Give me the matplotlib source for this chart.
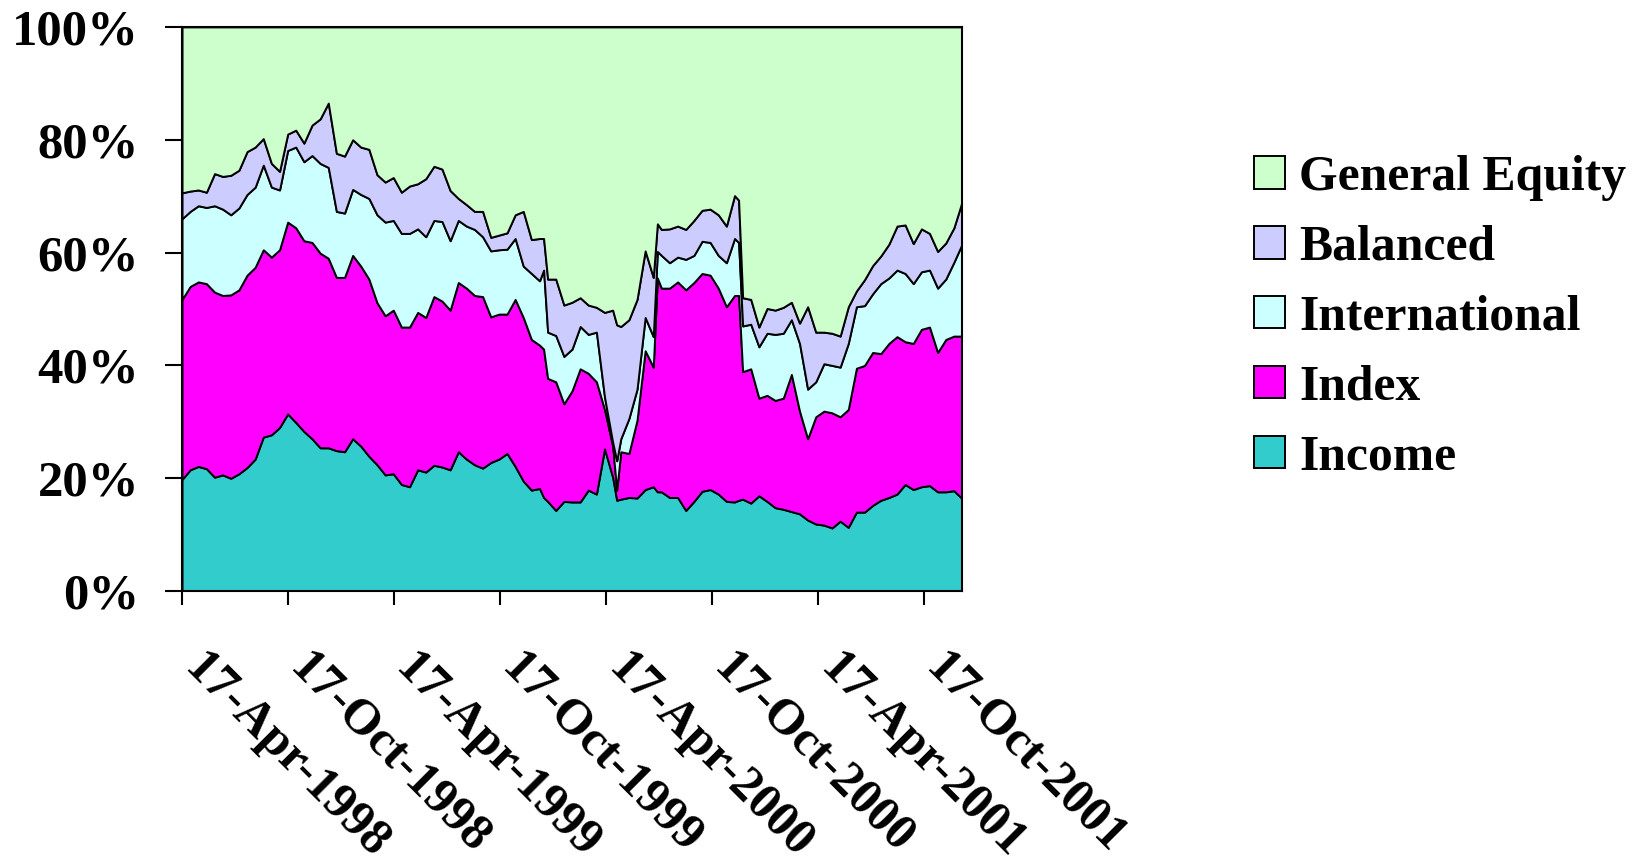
import numpy as np
import matplotlib
matplotlib.use('Agg')
import matplotlib.pyplot as plt
from matplotlib.transforms import ScaledTranslation

# Weekly observations, counted in weeks from the first date
START = np.datetime64('1998-04-17')
weeks = [
    0, 2, 4, 6, 8, 10, 12, 14, 16, 18,
    20, 22, 24, 26, 28, 30, 32, 34, 36, 38,
    40, 42, 44, 46, 48, 50, 52, 54, 56, 58,
    60, 62, 64, 66, 68, 70, 72, 74, 76, 78,
    80, 82, 84, 86, 88, 89, 90, 92, 94, 96,
    98, 100, 102, 104, 106, 107, 108, 110, 112, 114,
    116, 117, 118, 120, 122, 124, 126, 128, 130, 132,
    134, 136, 137, 138, 140, 142, 144, 146, 148, 150,
    152, 154, 156, 158, 160, 162, 164, 166, 168, 170,
    172, 174, 176, 178, 180, 182, 184, 186, 188, 190,
    192,
]

income = [
    19.8, 21.5, 22.1, 21.7, 20.2, 20.6, 20.0, 20.8, 21.9, 23.4,
    27.3, 27.7, 29.0, 31.4, 29.9, 28.3, 27.0, 25.4, 25.4, 24.9,
    24.7, 27.0, 25.7, 23.9, 22.4, 20.6, 20.8, 18.9, 18.5, 21.5,
    21.1, 22.3, 22.0, 21.5, 24.7, 23.4, 22.4, 21.8, 22.8, 23.4,
    24.4, 22.1, 19.5, 17.9, 18.2, 16.6, 15.9, 14.3, 15.9, 15.8,
    15.8, 17.9, 17.2, 25.2, 20.2, 16.1, 16.3, 16.6, 16.5, 18.0,
    18.5, 17.6, 17.6, 16.6, 16.6, 14.3, 15.9, 17.7, 18.0, 17.2,
    15.9, 15.8, 16.1, 16.3, 15.6, 16.9, 15.9, 14.8, 14.5, 14.1,
    13.7, 12.6, 11.9, 11.7, 11.2, 12.4, 11.3, 14.0, 14.0, 15.2,
    16.1, 16.6, 17.2, 18.9, 18.0, 18.5, 18.7, 17.6, 17.6, 17.8,
    16.4,
]
index = [
    31.9, 32.5, 32.7, 32.8, 32.8, 31.8, 32.5, 32.6, 34.1, 34.0,
    33.2, 31.5, 31.5, 34.0, 34.5, 33.8, 34.8, 34.5, 33.6, 30.7,
    30.9, 32.5, 31.9, 31.4, 28.7, 28.2, 29.0, 27.9, 28.3, 27.9,
    27.4, 29.9, 29.4, 28.3, 30.0, 30.3, 30.0, 30.4, 25.8, 25.7,
    24.7, 29.6, 29.0, 26.7, 25.4, 26.3, 21.8, 22.8, 17.3, 19.7,
    23.6, 20.7, 19.9, 7.0, 5.5, 1.8, 8.4, 7.8, 13.8, 24.6,
    21.2, 37.9, 36.1, 37.1, 38.2, 39.1, 38.8, 38.6, 38.0, 36.5,
    34.5, 36.6, 36.3, 22.6, 23.8, 17.3, 18.8, 19.0, 19.7, 24.3,
    18.2, 14.4, 19.0, 20.2, 20.4, 18.5, 20.9, 25.5, 26.0, 27.1,
    26.0, 27.3, 27.9, 25.3, 25.9, 27.9, 28.1, 24.7, 27.0, 27.4,
    28.8,
]
international = [
    14.3, 13.3, 13.5, 13.5, 15.3, 15.3, 14.2, 14.5, 14.3, 14.2,
    15.0, 12.4, 10.6, 12.7, 14.3, 14.0, 15.4, 15.9, 16.1, 11.7,
    11.4, 11.7, 12.7, 14.3, 15.6, 16.6, 15.9, 16.6, 16.6, 14.8,
    14.3, 13.5, 14.1, 12.3, 11.0, 11.0, 11.7, 10.6, 11.7, 11.4,
    11.5, 10.8, 9.1, 11.7, 11.4, 14.0, 8.2, 8.2, 8.4, 7.4,
    7.5, 6.9, 8.8, 2.2, 0.7, 5.2, 2.3, 6.2, 5.5, 5.9,
    5.4, 4.7, 5.8, 4.5, 4.4, 5.4, 4.8, 5.7, 5.8, 5.8,
    7.8, 10.1, 9.4, 8.1, 7.9, 9.1, 11.0, 11.7, 11.5, 9.7,
    12.0, 8.8, 6.2, 8.4, 8.4, 8.8, 11.7, 10.9, 10.6, 10.4,
    12.4, 11.6, 11.8, 12.1, 10.6, 10.2, 10.1, 11.4, 10.7, 13.1,
    16.3,
]
balanced = [
    4.6, 3.6, 2.8, 2.7, 5.7, 5.8, 7.0, 6.7, 7.6, 7.1,
    4.7, 4.2, 3.3, 2.9, 3.0, 3.3, 5.4, 7.9, 11.4, 10.3,
    10.1, 8.8, 8.4, 8.7, 7.1, 7.1, 7.6, 7.3, 8.4, 8.0,
    10.3, 9.6, 9.3, 8.9, 3.9, 3.8, 3.2, 4.5, 2.4, 2.6,
    2.9, 4.2, 9.7, 6.0, 7.5, 5.6, 9.4, 10.0, 9.1, 8.3,
    5.1, 5.2, 4.4, 15.0, 23.4, 24.1, 19.9, 17.5, 15.9, 11.8,
    10.5, 4.9, 4.6, 6.0, 5.5, 5.3, 6.2, 5.5, 5.9, 7.2,
    6.5, 7.6, 7.5, 5.0, 4.4, 3.5, 4.4, 4.3, 4.6, 3.1,
    3.6, 14.6, 8.8, 5.6, 5.7, 5.5, 6.5, 2.8, 4.6, 5.0,
    4.9, 6.0, 7.8, 8.6, 7.1, 7.6, 6.5, 6.5, 6.4, 6.1,
    7.5,
]
general_equity = [
    29.4, 29.1, 28.9, 29.3, 26.0, 26.5, 26.3, 25.4, 22.1, 21.3,
    19.8, 24.2, 25.6, 19.0, 18.3, 20.6, 17.4, 16.3, 13.5, 22.4,
    22.9, 20.0, 21.3, 21.7, 26.2, 27.5, 26.7, 29.3, 28.2, 27.8,
    26.9, 24.7, 25.2, 29.0, 30.4, 31.5, 32.7, 32.7, 37.3, 36.9,
    36.5, 33.3, 32.7, 37.7, 37.5, 37.5, 44.7, 44.7, 49.3, 48.8,
    48.0, 49.3, 49.7, 50.6, 50.2, 52.8, 53.1, 51.9, 48.3, 39.7,
    44.4, 34.9, 35.9, 35.8, 35.3, 35.9, 34.3, 32.5, 32.3, 33.3,
    35.3, 29.9, 30.7, 48.0, 48.3, 53.2, 49.9, 50.2, 49.7, 48.8,
    52.5, 49.6, 54.1, 54.1, 54.3, 54.8, 49.6, 46.8, 44.8, 42.3,
    40.6, 38.5, 35.3, 35.1, 38.4, 35.8, 36.6, 39.8, 38.3, 35.6,
    31.0,
]

series_names = ['Income', 'Index', 'International', 'Balanced', 'General Equity']
colors = ['#33CCCC', '#FF00FF', '#CCFFFF', '#CCCCFF', '#CCFFCC']

tick_dates = ['1998-04-17', '1998-10-17', '1999-04-17', '1999-10-17',
              '2000-04-17', '2000-10-17', '2001-04-17', '2001-10-17']
tick_labels = ['17-Apr-1998', '17-Oct-1998', '17-Apr-1999', '17-Oct-1999',
               '17-Apr-2000', '17-Oct-2000', '17-Apr-2001', '17-Oct-2001']
y_ticks = [0, 20, 40, 60, 80, 100]


def main():
    plt.rcParams['font.family'] = ['Liberation Serif', 'DejaVu Serif']
    plt.rcParams['font.weight'] = 'bold'

    dates = START + np.array(weeks) * np.timedelta64(7, 'D')
    values = np.array([income, index, international, balanced, general_equity])
    shares = values / values.sum(axis=0) * 100  # 100% stacked

    fig = plt.figure(figsize=(16.4, 8.68), dpi=100)
    ax = fig.add_axes([0.111, 0.319, 0.4756, 0.650])

    polys = ax.stackplot(dates, shares, colors=colors, labels=series_names,
                         edgecolor='black', linewidth=1.4)

    # Y axis
    ax.set_ylim(0, 100)
    ax.set_yticks(y_ticks)
    ax.set_yticklabels([f'{v}%' for v in y_ticks], fontsize=36.5, fontweight='bold')
    ax.tick_params(axis='y', direction='out', length=12, width=1.5, pad=19)

    # X axis
    ax.set_xlim(dates[0], dates[-1])
    ax.set_xticks([np.datetime64(d) for d in tick_dates])
    ax.set_xticklabels(tick_labels, fontsize=36, fontweight='bold', rotation=-45,
                       ha='left', va='top', rotation_mode='anchor')
    ax.tick_params(axis='x', direction='out', length=10, width=1.5, pad=29)
    shift = ScaledTranslation(0.25, 0, fig.dpi_scale_trans)
    for lbl in ax.get_xticklabels():
        lbl.set_transform(lbl.get_transform() + shift)

    for sp in ax.spines.values():
        sp.set_linewidth(1.5)
        sp.set_color('black')

    handles = polys[::-1]
    labels = series_names[::-1]
    fig.legend(handles, labels, loc='center left', bbox_to_anchor=(0.7645, 0.634),
               frameon=False, prop={'weight': 'bold', 'size': 35.7},
               handlelength=0.63, handleheight=0.63, handletextpad=0.28,
               labelspacing=0.48, borderpad=0, borderaxespad=0)

    fig.savefig('out.png', dpi=100)


if __name__ == '__main__':
    main()
